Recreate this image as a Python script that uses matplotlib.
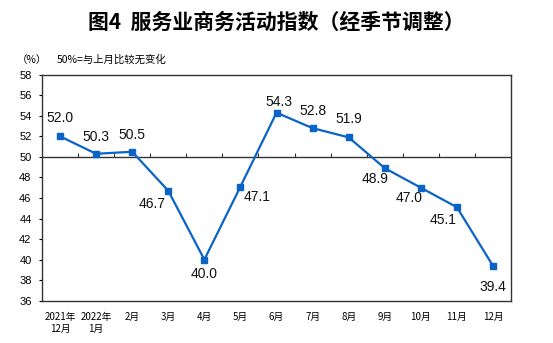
import matplotlib
matplotlib.use("Agg")
import matplotlib.pyplot as plt

plt.rcParams['font.family'] = ['Noto Sans CJK SC', 'DejaVu Sans']

# Data
months = ["2021年\n12月", "2022年\n1月", "2月", "3月", "4月", "5月", "6月",
          "7月", "8月", "9月", "10月", "11月", "12月"]
values = [52.0, 50.3, 50.5, 46.7, 40.0, 47.1, 54.3, 52.8, 51.9, 48.9, 47.0, 45.1, 39.4]
y_ticks = list(range(36, 59, 2))

# Label placement (pixel offsets from each point)
label_offsets = [(0, 18), (0, 17), (0, 17), (-16, -13), (0, -14), (17, -10), (2, 11),
                 (0, 17), (0, 18), (-10, -11), (-12, -10), (-14, -13), (0, -21)]

color = "#0A64C8"

fig = plt.figure(figsize=(5.53, 3.43), dpi=100)
ax = fig.add_axes([42 / 553, 1 - 300.7 / 343, (511 - 42) / 553, (300.7 - 74.7) / 343])

x = list(range(len(values)))
ax.plot(x, values, color=color, lw=1.6, marker='s', markersize=4.5, zorder=3)

for xi, v, (dx, dy) in zip(x, values, label_offsets):
    ax.annotate(f"{v:.1f}", (xi, v), xytext=(dx, dy), textcoords='offset pixels',
                ha='center', va='center', fontsize=10, family='Liberation Sans',
                color='#111111')

ax.set_xlim(-0.5, len(values) - 0.5)
ax.set_ylim(36, 58)
ax.set_yticks(y_ticks)
ax.set_yticklabels([str(t) for t in y_ticks], fontsize=8, family='Liberation Sans')
ax.tick_params(axis='y', length=2.5, width=0.8, pad=5, direction='out')

ax.set_xticks(x)
ax.set_xticklabels(months, fontsize=7, linespacing=1.3)
ax.tick_params(axis='x', length=0, pad=8)

for s in ax.spines.values():
    s.set_linewidth(1.0)
    s.set_color('#333333')

# Reference line at 50 with tick marks between categories
ax.axhline(50, color='#333333', lw=1.0, zorder=2)
bounds = [i + 0.5 for i in range(len(values) - 1)]
ax.vlines(bounds, 50, 50.4, color='#333333', lw=0.8, zorder=2)

fig.text(0.5, 1 - 22 / 343, "图4  服务业商务活动指数（经季节调整）", ha='center', va='center',
         fontsize=15, fontweight='bold')
fig.text(17 / 553, 1 - 60 / 343, "（%）", ha='left', va='center', fontsize=7.5)
fig.text(57 / 553, 1 - 60 / 343, "50%=与上月比较无变化", ha='left', va='center', fontsize=7.5)

fig.savefig("out.png", dpi=100)
